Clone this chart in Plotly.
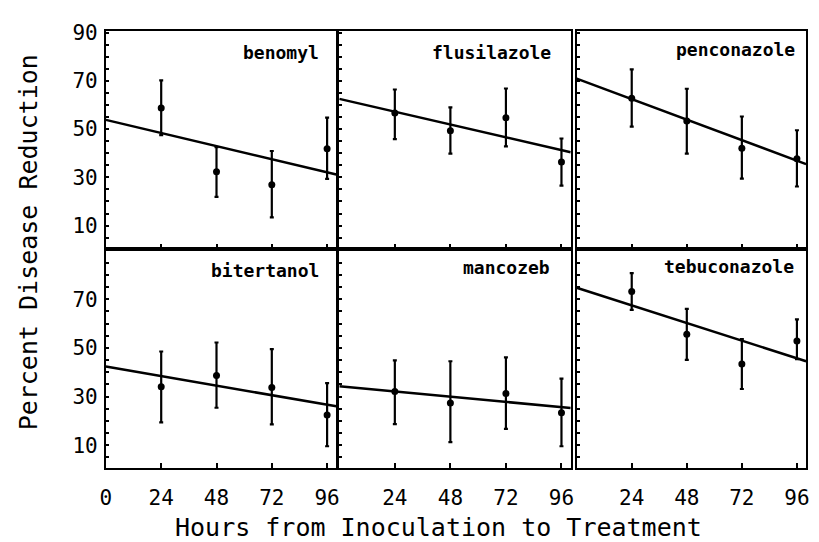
import plotly.graph_objects as go

W, H = 819, 542

hours = [24, 48, 72, 96]
fungicides = ["benomyl", "flusilazole", "penconazole",
              "bitertanol", "mancozeb", "tebuconazole"]

benomyl_mean = [58.7, 32.3, 26.9, 41.8]
benomyl_upper = [70.2, 42.5, 40.9, 54.7]
benomyl_lower = [47.5, 21.9, 13.4, 29.4]

flusilazole_mean = [56.7, 49.3, 54.7, 36.4]
flusilazole_upper = [66.4, 59.0, 66.8, 46.1]
flusilazole_lower = [45.8, 39.8, 42.8, 26.6]

penconazole_mean = [62.8, 53.3, 42.1, 37.7]
penconazole_upper = [74.7, 66.7, 55.2, 49.5]
penconazole_lower = [51.0, 39.8, 29.5, 26.2]

bitertanol_mean = [34.0, 38.7, 33.7, 22.4]
bitertanol_upper = [48.5, 52.2, 49.5, 35.5]
bitertanol_lower = [19.4, 25.4, 18.6, 9.6]

mancozeb_mean = [32.1, 27.4, 31.3, 23.3]
mancozeb_upper = [44.9, 44.5, 46.1, 37.4]
mancozeb_lower = [18.7, 11.3, 16.7, 9.6]

tebuconazole_mean = [73.1, 55.6, 43.4, 52.8]
tebuconazole_upper = [80.7, 66.0, 53.6, 61.7]
tebuconazole_lower = [65.6, 45.1, 33.1, 45.4]

# fitted regression lines (intercept at 0 h, slope per hour)
line_intercepts = [53.8, 62.5, 70.9, 42.3, 34.2, 74.7]
line_slopes = [-0.226, -0.221, -0.354, -0.163, -0.089, -0.302]
line_x = [0, 100]

y_tickvals = list(range(5, 95, 5))
y_labels_top = ["10", "30", "50", "70", "90"]
y_labels_bottom = ["10", "30", "50", "70"]
x_labels_first = ["0", "24", "48", "72", "96"]
x_labels_other = ["24", "48", "72", "96"]

means = [benomyl_mean, flusilazole_mean, penconazole_mean,
         bitertanol_mean, mancozeb_mean, tebuconazole_mean]
uppers = [benomyl_upper, flusilazole_upper, penconazole_upper,
          bitertanol_upper, mancozeb_upper, tebuconazole_upper]
lowers = [benomyl_lower, flusilazole_lower, penconazole_lower,
          bitertanol_lower, mancozeb_lower, tebuconazole_lower]

col_px = [(101, 334), (337, 571), (577, 809)]
row_px = [(21, 243), (243, 467)]
# panel-name label anchor (right edge, vertical centre) in axis-domain units
label_pos = [(0.932, 0.90), (0.925, 0.90), (0.962, 0.912),
             (0.932, 0.90), (0.918, 0.912), (0.955, 0.918)]

FONT = "DejaVu Sans Mono"
fig = go.Figure()
layout = dict(
    width=W, height=H, margin=dict(l=0, r=0, t=0, b=0),
    paper_bgcolor="white", plot_bgcolor="white", showlegend=False,
    font=dict(family=FONT, color="black"),
)
annotations = []

for i, name in enumerate(fungicides):
    r, c = divmod(i, 3)
    n = i + 1
    xa = "x" if n == 1 else f"x{n}"
    ya = "y" if n == 1 else f"y{n}"
    xkey = "xaxis" if n == 1 else f"xaxis{n}"
    ykey = "yaxis" if n == 1 else f"yaxis{n}"
    x0, x1 = col_px[c]
    y0, y1 = row_px[r]

    m = means[i]
    up = [u - v for u, v in zip(uppers[i], m)]
    lo = [v - l for v, l in zip(m, lowers[i])]
    fig.add_trace(go.Scatter(
        x=hours, y=m, mode="markers", xaxis=xa, yaxis=ya,
        marker=dict(color="black", size=7),
        error_y=dict(type="data", symmetric=False, array=up, arrayminus=lo,
                     color="black", thickness=2.2, width=2),
    ))
    ly = [line_intercepts[i] + line_slopes[i] * xv for xv in line_x]
    fig.add_trace(go.Scatter(
        x=line_x, y=ly, mode="lines", xaxis=xa, yaxis=ya,
        line=dict(color="black", width=2.5),
    ))

    if r == 1:
        if c == 0:
            xt_vals, xt_text = [0] + hours, x_labels_first
        else:
            xt_vals, xt_text = hours, x_labels_other
    else:
        xt_vals, xt_text = hours, ["" for _ in hours]

    layout[xkey] = dict(
        domain=[x0 / W, x1 / W], range=[0, 100], anchor=ya,
        showgrid=False, zeroline=False, showline=True, mirror=True,
        linecolor="black", linewidth=2,
        ticks="inside", ticklen=5, tickwidth=2, tickcolor="black",
        tickvals=xt_vals, ticktext=xt_text, ticklabelstandoff=9,
        tickfont=dict(family=FONT, size=21, color="black"),
        fixedrange=True,
    )
    if c == 0:
        lbls = y_labels_top if r == 0 else y_labels_bottom
        ytext = [str(v) if str(v) in lbls else "" for v in y_tickvals]
    else:
        ytext = ["" for _ in y_tickvals]
    layout[ykey] = dict(
        domain=[1 - y1 / H, 1 - y0 / H], range=[0.5, 90.8], anchor=xa,
        showgrid=False, zeroline=False, showline=True, mirror=True,
        linecolor="black", linewidth=2,
        ticks="inside", ticklen=3, tickwidth=2, tickcolor="black",
        tickvals=y_tickvals, ticktext=ytext, ticklabelstandoff=2,
        tickfont=dict(family=FONT, size=21, color="black"),
        fixedrange=True,
    )
    lx, lyy = label_pos[i]
    annotations.append(dict(
        text=f"<b>{name}</b>", xref=f"{xa} domain", yref=f"{ya} domain",
        x=lx, y=lyy, xanchor="right", yanchor="middle",
        showarrow=False, font=dict(family=FONT, size=18, color="black"),
    ))

annotations.append(dict(
    text="Hours from Inoculation to Treatment", xref="paper", yref="paper",
    x=437 / W, y=1 - 527 / H, xanchor="center", yanchor="middle",
    showarrow=False, font=dict(family=FONT, size=25, color="black"),
))
annotations.append(dict(
    text="Percent Disease Reduction", xref="paper", yref="paper",
    x=23 / W, y=1 - 237 / H, xanchor="center", yanchor="middle",
    textangle=-90, showarrow=False,
    font=dict(family=FONT, size=25, color="black"),
))
layout["annotations"] = annotations
fig.update_layout(**layout)
fig.write_html(
    "out.html",
    config={"displayModeBar": False},
    post_script="document.body.style.margin='0';document.body.style.overflow='hidden';",
)
